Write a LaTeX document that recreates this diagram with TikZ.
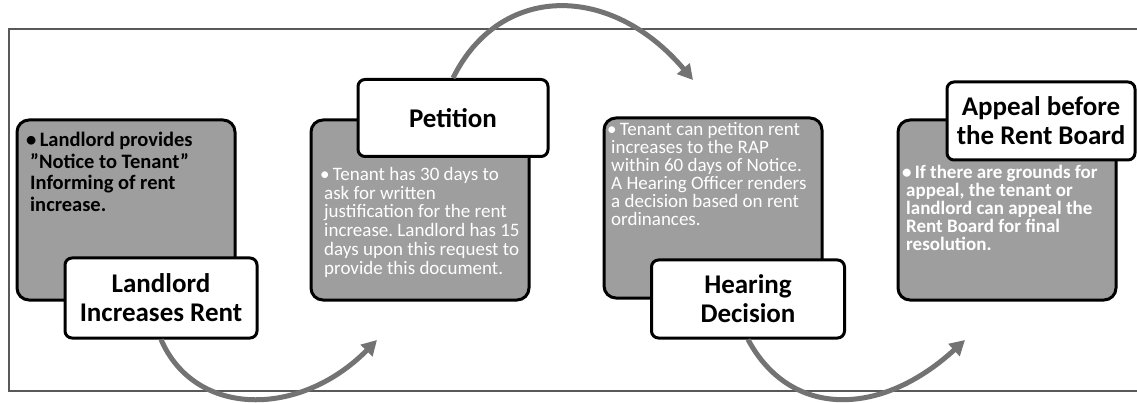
\documentclass[tikz,border=0pt]{standalone}
\usepackage{fontspec}
\setmainfont{Carlito}
\usetikzlibrary{arrows.meta}
\frenchspacing

\begin{document}
\begin{tikzpicture}[x=1pt,y=-1pt,
  stage/.style={draw=black, line width=3pt, fill=black!38, rounded corners=12pt,
    minimum width=218pt, minimum height=180pt, inner sep=0pt},
  title/.style={draw=black, line width=3pt, fill=white, rounded corners=7pt,
    align=center, inner sep=0pt, font=\fontsize{27}{29}\selectfont\bfseries},
  note/.style={anchor=north west, align=left, inner sep=0pt, text=white,
    font=\fontsize{19}{18.8}\selectfont},
  flow/.style={draw=black!55, line width=5pt, -{Triangle[length=15pt,width=16pt]}}]
\useasboundingbox (0,0) rectangle (1137,403);

% frame
\draw[draw=black!65, line width=2pt] (1137,29)--(9,29)--(9,391)--(1137,391);

% stages
\node[stage] (s1) at (126,210) {};
\node[stage] (s2) at (420,210) {};
\node[stage] (s3) at (713,208) {};
\node[stage] (s4) at (1007,210) {};

\node[note, text=black, font=\fontsize{20.5}{21.5}\selectfont\bfseries] (t1) at (26,132)
  {\textbullet\,Landlord provides\\\hspace*{4pt}\char"22 Notice to Tenant\char"22\\\hspace*{4pt}Informing of rent\\\hspace*{4pt}increase.};
\node[note] (t2) at (320,167)
  {\textbullet\,Tenant has 30 days to\\\hspace*{4pt}ask for written\\\hspace*{4pt}justification for the rent\\\hspace*{4pt}increase. Landlord has 15\\\hspace*{4pt}days upon this request to\\\hspace*{4pt}provide this document.};
\node[note, font=\fontsize{19}{18}\selectfont] (t3) at (607,122)
  {\textbullet\,Tenant can petiton rent\\\hspace*{4pt}increases to the RAP\\\hspace*{4pt}within 60 days of Notice.\\\hspace*{4pt}A Hearing Officer renders\\\hspace*{4pt}a decision based on rent\\\hspace*{4pt}ordinances.};
\node[note, font=\fontsize{19}{18}\selectfont\bfseries] (t4) at (902,165)
  {\textbullet\,If there are grounds for\\\hspace*{4pt}appeal, the tenant or\\\hspace*{4pt}landlord can appeal the\\\hspace*{4pt}Rent Board for final\\\hspace*{4pt}resolution.};

% arrows
\coordinate (e1) at (377,340);
\coordinate (e2) at (693,80);
\coordinate (e3) at (965,340);

% titles
\node[title, minimum width=192pt, minimum height=80pt] (l1) at (161,298) {Landlord\\Increases Rent};
\node[title, minimum width=190pt, minimum height=77pt] (l2) at (453,118) {Petition};
\node[title, minimum width=193pt, minimum height=78pt] (l3) at (748,299) {Hearing\\Decision};
\node[title, minimum width=188pt, minimum height=78pt] (l4) at (1041,121) {Appeal before\\the Rent Board};

\draw[flow] (l1.south) .. controls (195,418) and (300,418) .. (e1);
\draw[flow] (l2.north) .. controls (500,-17) and (611,-17) .. (e2);
\draw[flow] (l3.south) .. controls (790,418) and (880,418) .. (e3);
\end{tikzpicture}
\end{document}
